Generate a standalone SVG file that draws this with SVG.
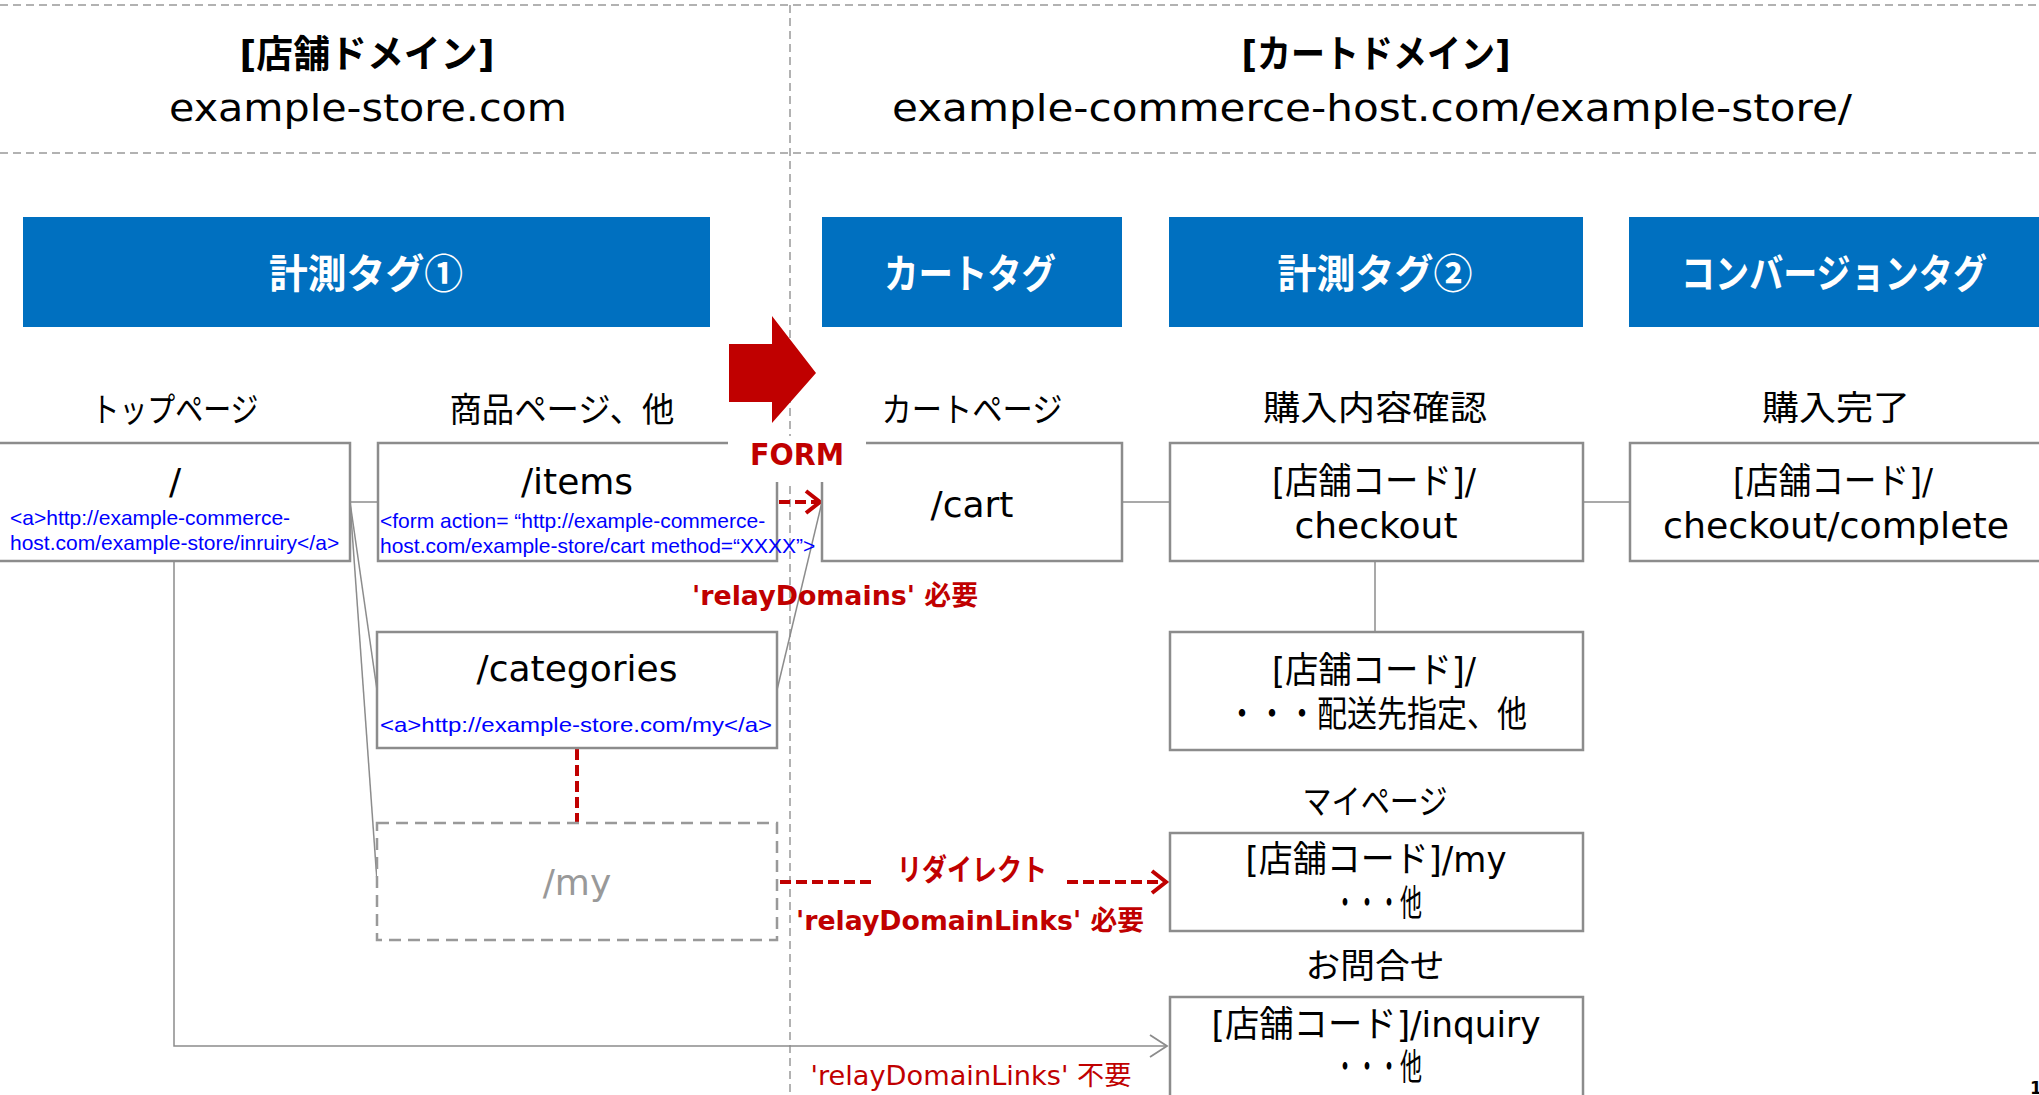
<svg xmlns="http://www.w3.org/2000/svg" width="2039" height="1095" viewBox="0 0 2039 1095">
<style>
.lat{font-family:"DejaVu Sans","Noto Sans CJK JP",sans-serif;fill:#000}
.jp{font-family:"Noto Sans CJK JP","Noto Sans CJK SC",sans-serif;fill:#000}
.blue{font-family:"Liberation Sans",Arial,sans-serif;fill:#0000FF;font-size:21px}
.tag{font-family:"Noto Sans CJK JP",sans-serif;font-weight:bold;fill:#FFFFFF;font-size:40px}
.tagbox{fill:#0070C0}
.box{fill:#FFFFFF;stroke:#8C8C8C;stroke-width:2.5}
.dbox{fill:#FFFFFF;stroke:#999999;stroke-width:2.5;stroke-dasharray:12 7}
.div{stroke:#999999;stroke-width:1.5;stroke-dasharray:8 5;fill:none}
.conn{stroke:#8C8C8C;stroke-width:1.5;fill:none}
.rdash{stroke:#C00000;stroke-width:4;stroke-dasharray:11 5;fill:none}
.red{font-family:"DejaVu Sans","Noto Sans CJK JP",sans-serif;fill:#C00000}
.node{font-size:36px}
.lbl{font-size:34px}
</style>
<defs>
<marker id="arrRed" markerUnits="userSpaceOnUse" markerWidth="26" markerHeight="28" refX="22" refY="14" orient="auto" viewBox="0 0 26 28"><path d="M8,3 L22,14 L8,25" fill="none" stroke="#C00000" stroke-width="4"/></marker>
<marker id="arrGray" markerUnits="userSpaceOnUse" markerWidth="26" markerHeight="28" refX="22" refY="14" orient="auto" viewBox="0 0 26 28"><path d="M5,3 L22,14 L5,25" fill="none" stroke="#8C8C8C" stroke-width="1.8"/></marker>
</defs>
<rect width="2039" height="1095" fill="#FFFFFF"/>

<g id="domains">
<line class="div" x1="0" y1="5" x2="2039" y2="5"/>
<line class="div" x1="0" y1="153" x2="2039" y2="153"/>
<line class="div" x1="790" y1="5" x2="790" y2="1095"/>
<text class="lat" x="367" y="67" font-size="38" font-weight="bold" text-anchor="middle" textLength="255" lengthAdjust="spacingAndGlyphs">[店舗ドメイン]</text>
<text class="lat" x="368" y="121" font-size="38" text-anchor="middle" textLength="398" lengthAdjust="spacingAndGlyphs">example-store.com</text>
<text class="lat" x="1376" y="67" font-size="38" font-weight="bold" text-anchor="middle" textLength="269" lengthAdjust="spacingAndGlyphs">[カートドメイン]</text>
<text class="lat" x="1372" y="121" font-size="38" text-anchor="middle" textLength="960" lengthAdjust="spacingAndGlyphs">example-commerce-host.com/example-store/</text>
</g>

<g id="tag1"><rect class="tagbox" x="23" y="217" width="687" height="110"/><text class="tag" x="366" y="288" text-anchor="middle" textLength="194" lengthAdjust="spacingAndGlyphs">計測タグ①</text></g>
<g id="tag-cart"><rect class="tagbox" x="822" y="217" width="300" height="110"/><text class="tag" x="970" y="288" text-anchor="middle" textLength="172" lengthAdjust="spacingAndGlyphs">カートタグ</text></g>
<g id="tag2"><rect class="tagbox" x="1169" y="217" width="414" height="110"/><text class="tag" x="1375" y="288" text-anchor="middle" textLength="195" lengthAdjust="spacingAndGlyphs">計測タグ②</text></g>
<g id="tag-conv"><rect class="tagbox" x="1629" y="217" width="410" height="110"/><text class="tag" x="1834" y="288" text-anchor="middle" textLength="306" lengthAdjust="spacingAndGlyphs">コンバージョンタグ</text></g>

<g id="labels">
<text class="jp lbl" x="175" y="422" text-anchor="middle" textLength="167" lengthAdjust="spacingAndGlyphs">トップページ</text>
<text class="jp lbl" x="562" y="422" text-anchor="middle" textLength="225" lengthAdjust="spacingAndGlyphs">商品ページ、他</text>
<text class="jp lbl" x="972" y="422" text-anchor="middle" textLength="181" lengthAdjust="spacingAndGlyphs">カートページ</text>
<text class="jp lbl" x="1375" y="420" text-anchor="middle" textLength="224" lengthAdjust="spacingAndGlyphs">購入内容確認</text>
<text class="jp lbl" x="1836" y="420" text-anchor="middle" textLength="148" lengthAdjust="spacingAndGlyphs">購入完了</text>
<text class="jp lbl" x="1375" y="814" text-anchor="middle" textLength="145" lengthAdjust="spacingAndGlyphs">マイページ</text>
<text class="jp lbl" x="1375" y="978" text-anchor="middle" textLength="139" lengthAdjust="spacingAndGlyphs">お問合せ</text>
</g>

<g id="connectors">
<line class="conn" x1="350" y1="502" x2="378" y2="502"/>
<line class="conn" x1="350" y1="502" x2="377" y2="690"/>
<line class="conn" x1="350" y1="502" x2="377" y2="881"/>
<line class="conn" x1="822" y1="502" x2="777" y2="690"/>
<line class="conn" x1="1122" y1="502" x2="1169" y2="502"/>
<line class="conn" x1="1583" y1="502" x2="1630" y2="502"/>
<line class="conn" x1="1375" y1="561" x2="1375" y2="632"/>
<polyline class="conn" points="174,561 174,1046 1167,1046" marker-end="url(#arrGray)"/>
<line class="rdash" x1="577" y1="749" x2="577" y2="823"/>
<line class="rdash" x1="779" y1="502" x2="820" y2="502" stroke-dasharray="9 5" marker-end="url(#arrRed)"/>
<line class="rdash" x1="780" y1="882" x2="876" y2="882"/>
<line class="rdash" x1="1067" y1="882" x2="1166" y2="882" marker-end="url(#arrRed)"/>
</g>

<g id="node-top">
<rect class="box" x="-2" y="443" width="352" height="118"/>
<text class="lat node" x="175" y="494" text-anchor="middle">/</text>
<text class="blue" x="10" y="525">&lt;a&gt;http://example-commerce-</text>
<text class="blue" x="10" y="550">host.com/example-store/inruiry&lt;/a&gt;</text>
</g>

<g id="node-items">
<rect class="box" x="378" y="443" width="399" height="118"/>
<text class="lat node" x="577" y="494" text-anchor="middle">/items</text>
</g>

<g id="node-cart">
<rect class="box" x="822" y="443" width="300" height="118"/>
<text class="lat node" x="972" y="517" text-anchor="middle">/cart</text>
</g>

<g id="form-label">
<rect x="728" y="436" width="138" height="46" fill="#FFFFFF"/>
<text class="red" x="797" y="465" font-size="30" font-weight="bold" text-anchor="middle" textLength="94" lengthAdjust="spacingAndGlyphs">FORM</text>
</g>

<g id="items-code">
<text class="blue" x="380" y="528">&lt;form action= “http://example-commerce-</text>
<text class="blue" x="380" y="553">host.com/example-store/cart method=“XXXX”&gt;</text>
</g>

<g id="block-arrow">
<polygon points="729,344 772,344 772,316 816,373 772,423 772,402 729,402" fill="#C00000"/>
</g>

<g id="node-categories">
<rect class="box" x="377" y="632" width="400" height="116"/>
<text class="lat node" x="577" y="681" text-anchor="middle">/categories</text>
<text class="blue" x="576" y="732" font-size="22" text-anchor="middle" textLength="392" lengthAdjust="spacingAndGlyphs">&lt;a&gt;http://example-store.com/my&lt;/a&gt;</text>
</g>

<g id="node-my">
<rect class="dbox" x="377" y="823" width="400" height="117"/>
<text class="lat node" x="577" y="895" text-anchor="middle" style="fill:#999999">/my</text>
</g>

<g id="node-checkout">
<rect class="box" x="1170" y="443" width="413" height="118"/>
<text class="lat node" x="1374" y="494" text-anchor="middle" textLength="204" lengthAdjust="spacingAndGlyphs">[店舗コード]/</text>
<text class="lat node" x="1376" y="538" text-anchor="middle">checkout</text>
</g>

<g id="node-complete">
<rect class="box" x="1630" y="443" width="415" height="118"/>
<text class="lat node" x="1833" y="494" text-anchor="middle" textLength="200" lengthAdjust="spacingAndGlyphs">[店舗コード]/</text>
<text class="lat node" x="1836" y="538" text-anchor="middle" textLength="346" lengthAdjust="spacingAndGlyphs">checkout/complete</text>
</g>

<g id="node-delivery">
<rect class="box" x="1170" y="632" width="413" height="118"/>
<text class="lat node" x="1374" y="683" text-anchor="middle" textLength="204" lengthAdjust="spacingAndGlyphs">[店舗コード]/</text>
<text class="lat node" x="1377" y="727" text-anchor="middle" textLength="300" lengthAdjust="spacingAndGlyphs">・・・配送先指定、他</text>
</g>

<g id="node-mypage">
<rect class="box" x="1170" y="833" width="413" height="98"/>
<text class="lat node" x="1376" y="872" text-anchor="middle" textLength="261" lengthAdjust="spacingAndGlyphs">[店舗コード]/my</text>
<text class="lat node" x="1378" y="916" text-anchor="middle" textLength="88" lengthAdjust="spacingAndGlyphs">・・・他</text>
</g>

<g id="node-inquiry">
<rect class="box" x="1170" y="997" width="413" height="110"/>
<text class="lat node" x="1376" y="1037" text-anchor="middle" textLength="329" lengthAdjust="spacingAndGlyphs">[店舗コード]/inquiry</text>
<text class="lat node" x="1378" y="1080" text-anchor="middle" textLength="88" lengthAdjust="spacingAndGlyphs">・・・他</text>
</g>

<g id="red-labels">
<text class="red" x="835" y="605" font-size="27" font-weight="bold" text-anchor="middle" textLength="286" lengthAdjust="spacingAndGlyphs">'relayDomains' 必要</text>
<text class="red" x="972" y="880" font-size="30" font-weight="bold" text-anchor="middle" textLength="150" lengthAdjust="spacingAndGlyphs">リダイレクト</text>
<text class="red" x="970" y="930" font-size="27" font-weight="bold" text-anchor="middle" textLength="348" lengthAdjust="spacingAndGlyphs">'relayDomainLinks' 必要</text>
<text class="red" x="971" y="1085" font-size="27" text-anchor="middle" textLength="321" lengthAdjust="spacingAndGlyphs">'relayDomainLinks' 不要</text>
</g>

<text class="lat" x="2030" y="1094" font-size="17" font-weight="bold">1</text>
</svg>
